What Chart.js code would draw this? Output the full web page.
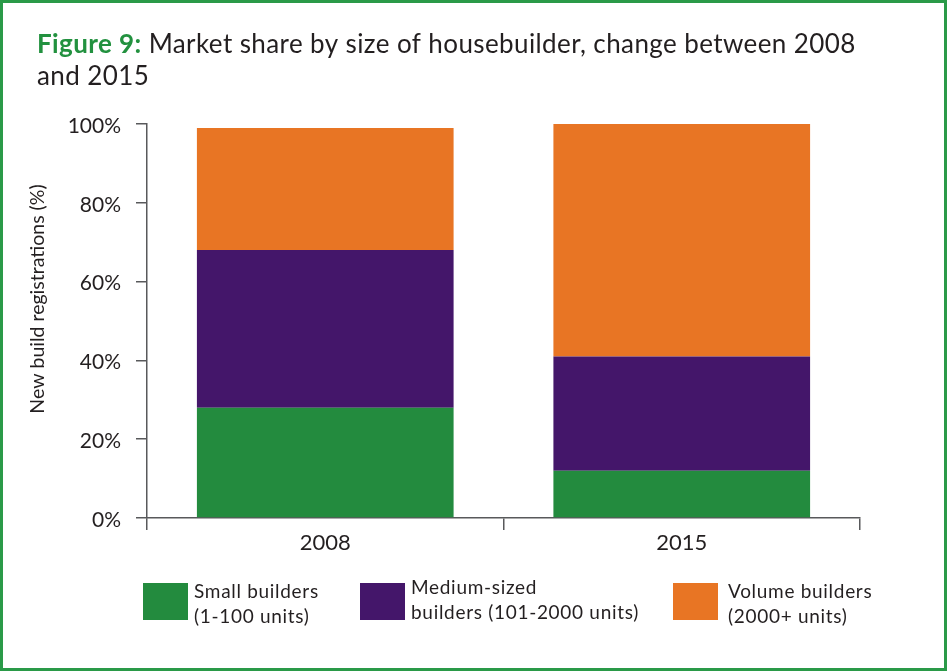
<!DOCTYPE html>
<html>
<head>
<meta charset="utf-8">
<script src="https://cdn.jsdelivr.net/npm/chart.js@4.4.1/dist/chart.umd.min.js"></script>
<style>
    html, body { margin: 0; padding: 0; background: #fff; }
    #wrap { position: relative; width: 947px; height: 671px; }
    #frame { position: absolute; left: 0; top: 0; width: 941px; height: 665px;
        border: 3px solid #2a9a48; pointer-events: none; }
</style>
</head>
<body>
<div id="wrap">
    <canvas id="chart" width="947" height="671"></canvas>
    <div id="frame"></div>
</div>
<script>
"use strict";

// data
const years = ['2008', '2015'];
const smallBuilders = [28, 12];
const mediumBuilders = [40, 29];
const volumeBuilders = [31, 59];

const seriesNames = [
    ['Small builders', '(1-100 units)'],
    ['Medium-sized', 'builders (101-2000 units)'],
    ['Volume builders', '(2000+ units)']
];
const yTicks = [0, 20, 40, 60, 80, 100];

const titleLead = 'Figure 9:';
const titleLines = [' Market share by size of housebuilder, change between 2008', 'and 2015'];
const yTitle = 'New build registrations (%)';

const FONT = 'Lato, "Open Sans", sans-serif';
const TEXT = '#231f20';
const AXIS = '#58595b';

const titlePlugin = {
    id: 'figTitle',
    afterDraw(chart) {
        const ctx = chart.ctx;
        ctx.save();
        ctx.textBaseline = 'alphabetic';
        ctx.textAlign = 'left';
        ctx.letterSpacing = '0.4px';
        ctx.font = 'bold 26px ' + FONT;
        ctx.fillStyle = '#22913f';
        ctx.fillText(titleLead, 37, 53);
        const w = ctx.measureText(titleLead).width;
        ctx.font = '26px ' + FONT;
        ctx.fillStyle = TEXT;
        ctx.fillText(titleLines[0], 37 + w, 53);
        ctx.fillText(titleLines[1], 37, 85);
        ctx.restore();
    }
};

// rotated axis title, placed a little above the plot centre like the original
const yTitlePlugin = {
    id: 'yTitle',
    afterDraw(chart) {
        const ctx = chart.ctx;
        ctx.save();
        ctx.translate(38, 299);
        ctx.rotate(-Math.PI / 2);
        ctx.font = '19.5px ' + FONT;
        ctx.fillStyle = TEXT;
        ctx.textAlign = 'center';
        ctx.textBaseline = 'middle';
        ctx.fillText(yTitle, 0, 0);
        ctx.restore();
    }
};

// legend boxes sit under the plot, two lines of text each
const legendPlugin = {
    id: 'figLegend',
    afterDraw(chart) {
        const ctx = chart.ctx,
            boxX = [143, 360, 673],
            textX = [194, 411, 728],
            lineY = [[598, 623], [594, 619], [598, 623]];
        ctx.save();
        ctx.font = '19px ' + FONT;
        ctx.letterSpacing = '0.7px';
        ctx.textBaseline = 'alphabetic';
        ctx.textAlign = 'left';
        chart.data.datasets.forEach((ds, i) => {
            ctx.fillStyle = ds.backgroundColor;
            ctx.fillRect(boxX[i], 583, 45, 37);
            ctx.fillStyle = TEXT;
            ds.label.forEach((line, k) => ctx.fillText(line, textX[i], lineY[i][k]));
        });
        ctx.restore();
    }
};

new Chart(document.getElementById('chart'), {
    type: 'bar',
    data: {
        labels: years,
        datasets: [
            {label: seriesNames[0], data: smallBuilders, backgroundColor: '#238b3e'},
            {label: seriesNames[1], data: mediumBuilders, backgroundColor: '#44166a'},
            {label: seriesNames[2], data: volumeBuilders, backgroundColor: '#e87524'}
        ]
    },
    options: {
        responsive: false,
        animation: false,
        layout: {padding: {top: 124, right: 87, left: 0, bottom: 0}},
        datasets: {bar: {categoryPercentage: 0.72, barPercentage: 1, borderWidth: 0}},
        plugins: {
            legend: {display: false},
            title: {display: false},
            tooltip: {enabled: false}
        },
        scales: {
            x: {
                stacked: true,
                offset: true,
                afterFit: s => { s.height = 153; },
                grid: {offset: true, drawOnChartArea: false, drawTicks: true, tickLength: 12, color: AXIS, lineWidth: 1.5},
                border: {display: true, color: AXIS, width: 1.5},
                ticks: {color: TEXT, font: {family: FONT, size: 22}, padding: 0}
            },
            y: {
                stacked: true,
                min: 0,
                max: 100,
                afterFit: s => { s.width = 147; },
                afterBuildTicks: s => { s.ticks = yTicks.map(v => ({value: v})); },
                grid: {drawOnChartArea: false, drawTicks: true, tickLength: 11, color: AXIS, lineWidth: 1.5},
                border: {display: true, color: AXIS, width: 1.5},
                ticks: {color: TEXT, font: {family: FONT, size: 21}, padding: 15, labelOffset: 2, callback: v => v + '%'}
            }
        }
    },
    plugins: [titlePlugin, yTitlePlugin, legendPlugin]
});
</script>
</body>
</html>
